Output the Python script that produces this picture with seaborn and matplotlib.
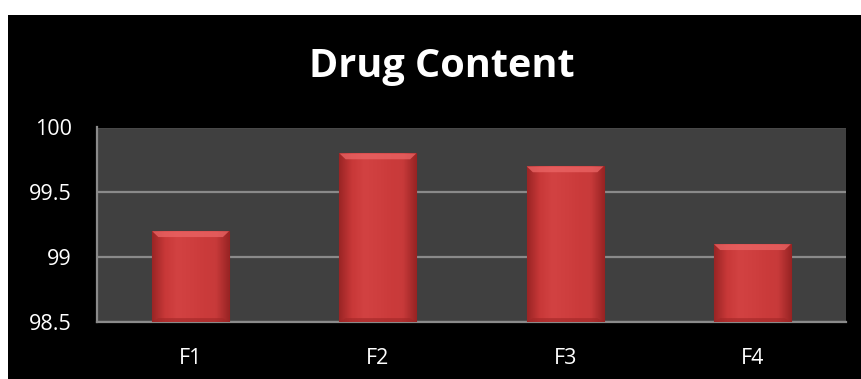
import numpy as np
import pandas as pd
import matplotlib
matplotlib.use("Agg")
import matplotlib.pyplot as plt
from matplotlib.patches import Rectangle, Polygon
from matplotlib.colors import LinearSegmentedColormap
import seaborn as sns

# Drug content (%) per formulation
formulations = ["F1", "F2", "F3", "F4"]
drug_content = [99.2, 99.8, 99.7, 99.1]
y_ticks = [98.5, 99, 99.5, 100]
y_tick_labels = ["98.5", "99", "99.5", "100"]

df = pd.DataFrame({"Formulation": formulations, "Drug Content": drug_content})

sns.set_theme(style="dark")
plt.rcParams["font.family"] = ["Open Sans", "DejaVu Sans"]

W, H = 862, 379
Y_MIN, Y_MAX = 98.5, 100
fig = plt.figure(figsize=(W / 100, H / 100), dpi=100, facecolor="white")

# black panel behind the chart (thin white margin on top and left)
fig.patches.append(Rectangle((8 / W, 0), 1 - 8 / W, (H - 15) / H,
                             transform=fig.transFigure, facecolor="black",
                             edgecolor="none", zorder=-10))

ax = fig.add_axes([97 / W, (H - 322) / H, (846 - 97) / W, (322 - 127.5) / H])
ax.set_facecolor("#404040")

sns.barplot(data=df, x="Formulation", y="Drug Content", ax=ax,
            color="#cc3c3c", width=0.41, edgecolor="#9a2222", linewidth=0.8,
            saturation=1, zorder=3)

ax.set_xlabel("")
ax.set_ylabel("")

ax.grid(axis="y", color="#8a8a8a", linewidth=1.6, zorder=1)
ax.grid(axis="x", visible=False)
for side in ["top", "right"]:
    ax.spines[side].set_visible(False)
for side in ["left", "bottom"]:
    ax.spines[side].set_visible(True)
    ax.spines[side].set_color("#8a8a8a")
    ax.spines[side].set_linewidth(1.6)

ax.tick_params(axis="both", colors="white", labelsize=15.5, length=0)
ax.tick_params(axis="y", pad=18)
ax.tick_params(axis="x", pad=19)

# bevelled shading on each bar: darker sides, light bevel along the top
shade = LinearSegmentedColormap.from_list(
    "bar_shade", ["#9a2525", "#c83838", "#d24242", "#cf3f3f", "#cb3b3b",
                  "#c83a3a", "#9a2525"])
xs = np.linspace(0, 1, 200)
for patch in list(ax.patches):
    x0, w = patch.get_x(), patch.get_width()
    top = patch.get_y() + patch.get_height()
    bottom = Y_MIN
    grad = np.tile(xs, (2, 1))
    img = ax.imshow(grad, cmap=shade, aspect="auto", interpolation="bicubic",
                    extent=(x0, x0 + w, bottom, top), zorder=3.5)
    img.set_clip_path(patch)
    # light bevel across the top edge
    bevel = Polygon([(x0, top), (x0 + w, top), (x0 + w * 0.92, top - 0.045),
                     (x0 + w * 0.08, top - 0.045)], closed=True,
                    facecolor="#ec6666", edgecolor="none", alpha=0.75, zorder=4)
    ax.add_patch(bevel)
    # darker base at the bottom edge
    base = Polygon([(x0, bottom), (x0 + w, bottom), (x0 + w * 0.92, bottom + 0.03),
                    (x0 + w * 0.08, bottom + 0.03)], closed=True,
                   facecolor="#a02626", edgecolor="none", alpha=0.6, zorder=4)
    ax.add_patch(base)

ax.set_xlim(-0.5, len(formulations) - 0.5)
ax.set_ylim(Y_MIN, Y_MAX)
ax.set_yticks(y_ticks)
ax.set_yticklabels(y_tick_labels)

fig.text(442 / W, (H - 67) / H, "Drug Content", color="white", fontsize=28.5,
         fontweight="bold", ha="center", va="center")

fig.savefig("out.png", dpi=100, facecolor=fig.get_facecolor())
